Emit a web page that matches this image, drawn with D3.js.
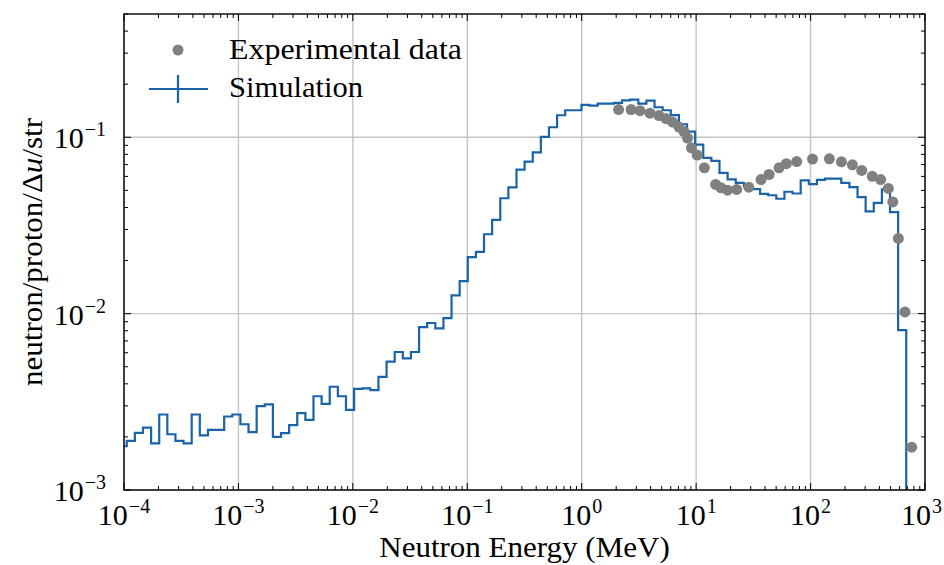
<!DOCTYPE html>
<html><head><meta charset="utf-8">
<script src="https://cdn.jsdelivr.net/npm/d3@7"></script>
<style>body{margin:0;background:#fff} svg{display:block} text{font-family:"Liberation Serif","DejaVu Serif",serif}</style>
</head><body><svg id="c" width="944" height="565"></svg>
<script>
// ---- data ----
const simValues = [0.00177,0.00190,0.00211,0.00226,0.00184,0.00268,0.00207,0.00190,0.00184,0.00268,
0.00204,0.00219,0.00219,0.00261,0.00268,0.00236,0.00213,0.00299,0.00306,0.00200,
0.00210,0.00233,0.00273,0.00250,0.00340,0.00308,0.00385,0.00340,0.00285,0.00374,
0.00377,0.00368,0.00438,0.00534,0.00606,0.00557,0.00606,0.00838,0.00885,0.00824,
0.00943,0.01268,0.01528,0.0209,0.0224,0.0282,0.0340,0.0451,0.0520,0.0656,
0.0728,0.0820,0.1005,0.1140,0.1333,0.1423,0.1423,0.1525,0.1513,0.1553,
0.1553,0.1565,0.1617,0.1636,0.1553,0.1614,0.1480,0.1423,0.1337,0.1185,
0.1077,0.0908,0.0764,0.0735,0.0629,0.0577,0.0552,0.0530,0.0508,0.0477,
0.0469,0.0448,0.0491,0.0480,0.0570,0.0542,0.0573,0.0583,0.0583,0.0552,
0.0522,0.0458,0.0380,0.0425,0.0506,0.0376,0.00806];
// histogram binning (log10 of first edge, log10 bin width)
const simBinLogStart = -4.047;
const simBinLogWidth = 0.07096;

const expEnergy = [2.10,2.70,3.23,3.95,4.73,5.45,6.21,7.08,7.83,8.40,9.10,10.2,11.8,14.8,16.5,18.8,22.6,28.8,36.9,43.4,53.0,61.4,75.6,104,146,186,232,280,346,410,478,523,585,668,765];
const expValues = [0.1436,0.1436,0.1416,0.137,0.1327,0.1276,0.1219,0.1142,0.1077,0.0989,0.0871,0.0793,0.0671,0.0540,0.0517,0.0501,0.0506,0.0521,0.0576,0.0615,0.0671,0.0708,0.0728,0.0752,0.0755,0.0726,0.0698,0.0649,0.0601,0.0576,0.0513,0.0430,0.0267,0.01023,0.00175];

const xTickExps = [-4,-3,-2,-1,0,1,2,3];
const yTickExps = [-3,-2,-1];
const legendLabels = ["Experimental data","Simulation"];
const xTitle = "Neutron Energy (MeV)";
const yTitleParts = ["neutron/proton/Δ","u","/str"];

// ---- layout ----
const W = 944, H = 565;
const L = 124, R = 925, T = 14, B = 490;
const FS = 29;
const BLUE = "#1a63a8", GRAY = "#808080";

const svg = d3.select("#c");
const x = d3.scaleLog().domain([1e-4, 1e3]).range([L, R]);
const y = d3.scaleLog().domain([1e-3, 0.5]).range([B, T]);

svg.append("defs").append("clipPath").attr("id","clip")
  .append("rect").attr("x",L).attr("y",T).attr("width",R-L).attr("height",B-T);

// grid
const g = svg.append("g");
xTickExps.forEach(e => {
  g.append("line").attr("x1",x(10**e)).attr("x2",x(10**e)).attr("y1",T).attr("y2",B)
   .attr("stroke","#c4c4c4").attr("stroke-width",1.4);
});
yTickExps.forEach(e => {
  g.append("line").attr("x1",L).attr("x2",R).attr("y1",y(10**e)).attr("y2",y(10**e))
   .attr("stroke","#c4c4c4").attr("stroke-width",1.4);
});

// histogram step line
const edges = d3.range(simValues.length+1).map(k => 10 ** (simBinLogStart + k*simBinLogWidth));
let p = d3.path();
p.moveTo(x(edges[0]), B+20);
simValues.forEach((v,i) => {
  p.lineTo(x(edges[i]), y(v));
  p.lineTo(x(edges[i+1]), y(v));
});
p.lineTo(x(edges[simValues.length]), B+20);
svg.append("path").attr("d", p.toString()).attr("clip-path","url(#clip)")
  .attr("fill","none").attr("stroke",BLUE).attr("stroke-width",2.2).attr("stroke-linejoin","miter");

// experimental points
svg.append("g").attr("clip-path","url(#clip)").selectAll("circle")
  .data(expEnergy.map((e,i)=>[e,expValues[i]])).join("circle")
  .attr("cx",d=>x(d[0])).attr("cy",d=>y(d[1])).attr("r",5.5).attr("fill",GRAY);

// ticks
const tk = svg.append("g").attr("stroke","#000").attr("stroke-width",1);
const xMinor = [], yMinor = [];
for (let e=-4;e<3;e++) for (let m=2;m<10;m++) xMinor.push(m*10**e);
for (let e=-3;e<0;e++) for (let m=2;m<10;m++) if (m*10**e <= 0.5) yMinor.push(m*10**e);
xTickExps.forEach(e => {
  const xx = x(10**e);
  tk.append("line").attr("x1",xx).attr("x2",xx).attr("y1",B).attr("y2",B-7);
  tk.append("line").attr("x1",xx).attr("x2",xx).attr("y1",T).attr("y2",T+7);
});
xMinor.forEach(v => {
  const xx = x(v);
  tk.append("line").attr("x1",xx).attr("x2",xx).attr("y1",B).attr("y2",B-4);
  tk.append("line").attr("x1",xx).attr("x2",xx).attr("y1",T).attr("y2",T+4);
});
yTickExps.forEach(e => {
  const yy = y(10**e);
  tk.append("line").attr("x1",L).attr("x2",L+7).attr("y1",yy).attr("y2",yy);
  tk.append("line").attr("x1",R).attr("x2",R-7).attr("y1",yy).attr("y2",yy);
});
yMinor.forEach(v => {
  const yy = y(v);
  tk.append("line").attr("x1",L).attr("x2",L+4).attr("y1",yy).attr("y2",yy);
  tk.append("line").attr("x1",R).attr("x2",R-4).attr("y1",yy).attr("y2",yy);
});

// frame
svg.append("rect").attr("x",L).attr("y",T).attr("width",R-L).attr("height",B-T)
  .attr("fill","none").attr("stroke","#000").attr("stroke-width",1.4);

// tick labels
function powLabel(sel, e) {
  sel.append("tspan").text("10");
  sel.append("tspan").attr("font-size",20).attr("dx",1).attr("dy",-12).text(e<0 ? "\u2212"+(-e) : String(e));
}
xTickExps.forEach(e => {
  const t = svg.append("text").attr("x",x(10**e)).attr("y",525)
    .attr("text-anchor","middle").attr("font-size",30).attr("fill","#000");
  powLabel(t,e);
  const bb = t.node().getBBox();
  if (bb.x + bb.width > W - 2) t.attr("x", x(10**e) - (bb.x + bb.width - (W - 2)));
});
yTickExps.forEach(e => {
  const t = svg.append("text").attr("x",106).attr("y",y(10**e)+11)
    .attr("text-anchor","end").attr("font-size",30).attr("fill","#000");
  powLabel(t,e);
});

// axis titles
const SX = 1.07;
svg.append("text").attr("transform",`translate(${(L+R)/2},557) scale(${SX},1)`).attr("text-anchor","middle")
  .attr("font-size",FS).text(xTitle);
const yt = svg.append("text").attr("transform",`translate(42,${(T+B)/2}) rotate(-90) scale(${SX},1)`)
  .attr("text-anchor","middle").attr("font-size",FS);
yt.append("tspan").text(yTitleParts[0]);
yt.append("tspan").attr("font-style","italic").text(yTitleParts[1]);
yt.append("tspan").text(yTitleParts[2]);

// legend
const lg = svg.append("g");
lg.append("circle").attr("cx",178).attr("cy",50).attr("r",5.5).attr("fill",GRAY);
lg.append("line").attr("x1",149).attr("x2",208).attr("y1",89).attr("y2",89).attr("stroke",BLUE).attr("stroke-width",2.2);
lg.append("line").attr("x1",178).attr("x2",178).attr("y1",75).attr("y2",103).attr("stroke",BLUE).attr("stroke-width",2.2);
lg.append("text").attr("x",229).attr("y",59).attr("font-size",FS)
  .attr("textLength",233).attr("lengthAdjust","spacingAndGlyphs").text(legendLabels[0]);
lg.append("text").attr("x",229).attr("y",97).attr("font-size",FS)
  .attr("textLength",134).attr("lengthAdjust","spacingAndGlyphs").text(legendLabels[1]);
</script></body></html>
